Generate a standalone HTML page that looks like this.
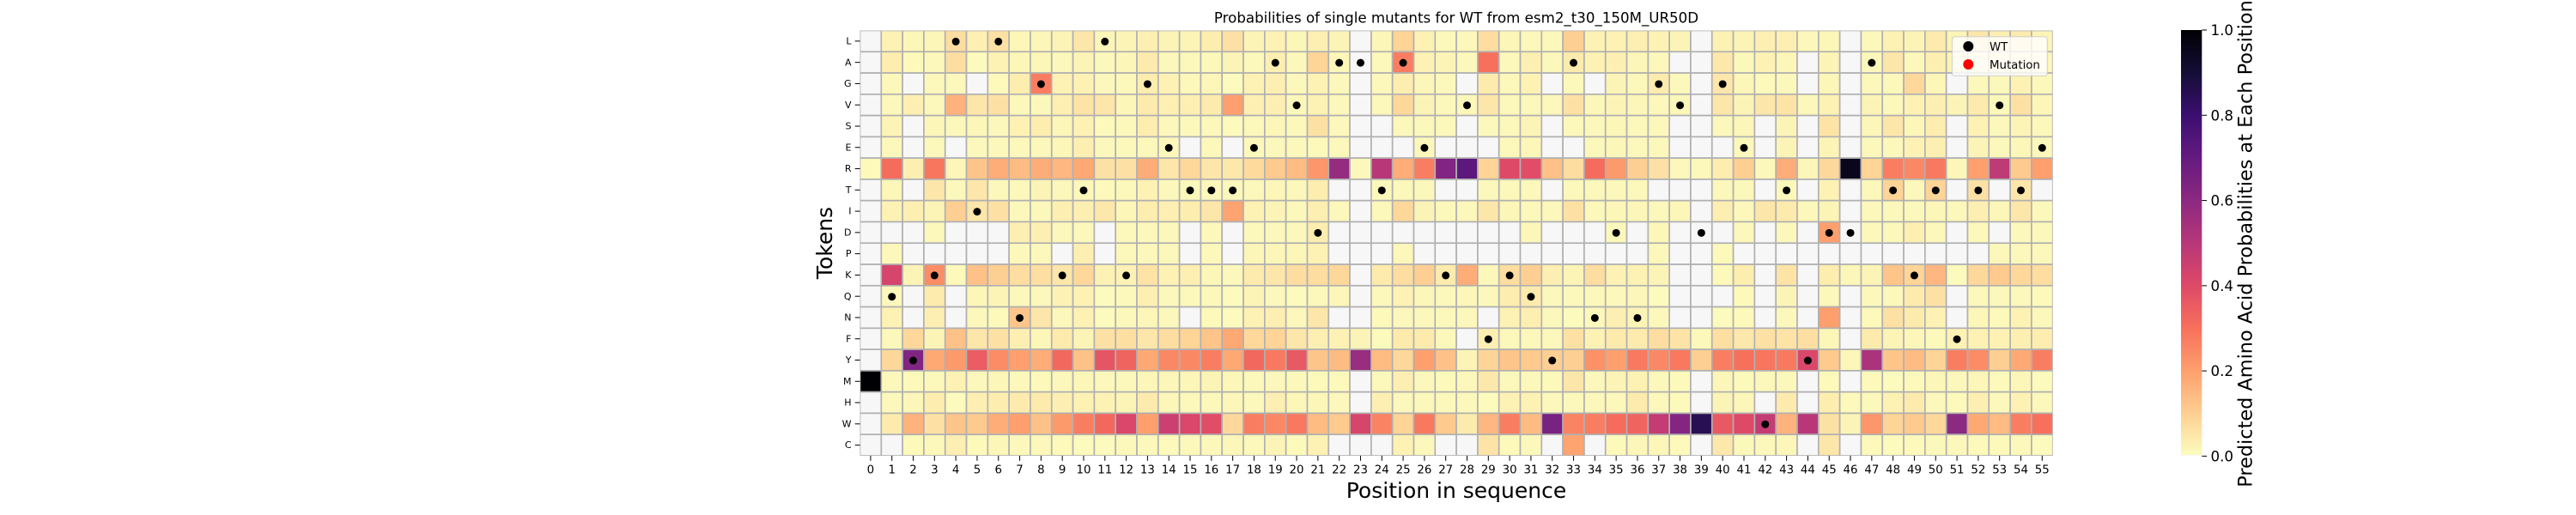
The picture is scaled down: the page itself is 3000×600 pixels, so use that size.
<!DOCTYPE html>
<html lang="en">
<head>
<meta charset="utf-8">
<title>Probabilities of single mutants for WT from esm2_t30_150M_UR50D</title>
<style>
html,body{margin:0;padding:0;background:#fff;width:3000px;height:600px;overflow:hidden}
svg{display:block}
text{font-family:"DejaVu Sans","Liberation Sans",sans-serif;fill:#000}
</style>
</head>
<body>
<svg id="chart" xmlns="http://www.w3.org/2000/svg" width="3000" height="600" viewBox="0 0 3000 600">
  <defs>
    <clipPath id="plot-clip"><rect x="1001.5" y="35.5" width="1389.2" height="495.5"/></clipPath>
    <linearGradient id="magma-reversed" x1="0" y1="1" x2="0" y2="0">
      <stop offset="0" stop-color="#fcfdbf"/><stop offset="0.1" stop-color="#fecf92"/>
      <stop offset="0.2" stop-color="#fe9f6d"/><stop offset="0.3" stop-color="#f7705c"/>
      <stop offset="0.4" stop-color="#de4968"/><stop offset="0.5" stop-color="#b73779"/>
      <stop offset="0.6" stop-color="#8c2981"/><stop offset="0.7" stop-color="#641a80"/>
      <stop offset="0.8" stop-color="#3b0f70"/><stop offset="0.9" stop-color="#140e36"/>
      <stop offset="1" stop-color="#000004"/>
    </linearGradient>
  </defs>
  <text x="1696" y="26.5" font-size="16.67" text-anchor="middle">Probabilities of single mutants for WT from esm2_t30_150M_UR50D</text>
  <text x="1696" y="580" font-size="25" text-anchor="middle">Position in sequence</text>
  <text x="969" y="283" font-size="25" text-anchor="middle" transform="rotate(-90 969 283)">Tokens</text>
  <g id="heatmap" clip-path="url(#plot-clip)"></g>
  <g id="wt-dots"></g>
  <g id="x-axis"></g>
  <g id="y-axis"></g>
  <g>
    <rect x="2273.5" y="42.8" width="110.8" height="45.6" rx="3" fill="#fff" fill-opacity="0.8" stroke="#ccc" stroke-opacity="0.8" stroke-width="1.2"/>
    <line x1="2278" x2="2307" y1="54" y2="54" stroke="#fff" stroke-width="1.5"/>
    <circle cx="2292.3" cy="54" r="6" fill="#000"/>
    <text x="2317" y="59" font-size="13.33">WT</text>
    <line x1="2278" x2="2307" y1="75" y2="75" stroke="#fff" stroke-width="1.5"/>
    <circle cx="2292.3" cy="75" r="6" fill="#f00"/>
    <text x="2317" y="80" font-size="13.33">Mutation</text>
  </g>
  <g>
    <rect x="2540" y="35" width="24.3" height="496" fill="url(#magma-reversed)"/>
    <rect x="2540" y="530" width="24.3" height="1.2" fill="#f7f7f7"/>
    <g id="colorbar-ticks"></g>
    <text x="2622.7" y="284" font-size="22.4" text-anchor="middle" transform="rotate(-90 2622.7 284)">Predicted Amino Acid Probabilities at Each Position</text>
  </g>
</svg>
<script>
const n = null;
const tokens = ["L","A","G","V","S","E","R","T","I","D","P","K","Q","N","F","Y","M","H","W","C"];
const positionLabels = ["0","1","2","3","4","5","6","7","8","9","10","11","12","13","14","15","16","17","18","19","20","21","22","23","24","25","26","27","28","29","30","31","32","33","34","35","36","37","38","39","40","41","42","43","44","45","46","47","48","49","50","51","52","53","54","55"];
const wildType = ["M","Q","Y","K","L","I","L","N","G","K","T","L","K","G","E","T","T","T","E","A","V","D","A","A","T","A","E","K","V","F","K","Q","Y","A","N","D","N","G","V","D","G","E","W","T","Y","D","D","A","T","K","T","F","T","V","T","E"];
const colorbarTicks = [0, 0.2, 0.4, 0.6, 0.8, 1.0];

const probL = [n,.025,.015,.015,.07,.03,.06,.015,.015,.02,.05,.015,.02,.03,.02,.02,.035,.06,.02,.025,.015,.03,.02,n,.015,.09,.025,.012,.012,.07,.015,.012,.01,.1,.025,.025,.03,.025,.02,n,.025,.02,.03,.03,.01,.015,n,.01,.025,.02,.04,.02,.05,.03,.04,.02];
const probA = [n,.035,.008,.012,.07,.006,.025,.015,.015,.012,.02,.012,.015,.04,.012,.012,.012,.02,.012,.03,.012,.09,.015,n,.012,.27,.025,.02,.012,.3,.012,.03,.01,.04,.025,.03,.015,.012,n,n,.045,.01,.025,.015,n,.02,n,.01,.05,.012,.03,.02,.015,.015,.015,.015];
const probG = [n,.01,n,.012,.012,n,.008,.035,.27,.025,.025,.012,.012,.035,.025,.012,.015,.006,.025,.03,.01,.025,.012,n,.01,.035,.015,.01,n,.04,.012,.025,n,.012,n,.02,.012,.04,.01,n,.05,.015,.008,.012,n,.015,n,.012,.012,.08,.015,n,.012,.012,.025,.01];
const probV = [n,.01,.03,.012,.16,.05,.06,.012,.01,.03,.055,.05,.015,.04,.03,.03,.04,.2,.03,.03,.01,.025,.012,n,.012,.08,.02,.012,.012,.05,.012,.012,.012,.06,.015,.02,.015,.012,.012,n,.05,.02,.05,.055,.012,.025,n,.02,.012,.025,.03,.02,.04,.01,.06,.015];
const probS = [n,.02,n,.015,.01,.015,.012,.025,.035,.015,.025,.008,.012,.035,.012,.01,.012,.006,.012,.015,.01,.06,.012,n,n,.012,.012,.012,n,.01,.012,.02,n,.012,.012,.015,.012,.012,n,n,.01,.015,n,.02,n,.055,n,.015,.05,.015,.035,n,.025,.012,.02,.012];
const probE = [n,.01,n,.012,n,.01,.01,.012,.012,.015,.03,.01,.01,.012,.01,n,.012,n,.01,.012,.012,.008,.012,n,n,n,.012,n,n,n,.012,.015,n,n,.012,.015,.012,.012,n,n,n,.012,n,.02,n,.02,n,.012,.01,.025,.03,n,.02,.012,.015,.012];
const probR = [.008,.31,.03,.29,.015,.12,.17,.14,.17,.15,.18,.06,.06,.17,.05,.08,.05,.045,.075,.11,.14,.22,.58,.01,.5,.17,.27,.63,.72,.09,.4,.39,.13,.07,.31,.21,.1,.06,.012,.01,.035,.1,.01,.17,.015,.08,.95,.09,.27,.25,.28,.015,.2,.48,.11,.2];
const probT = [n,.015,n,.05,.01,.05,.01,.012,.02,.012,.012,.008,.012,.025,.01,.012,.012,.012,.012,.015,.012,.035,n,n,.01,.012,.012,n,n,.01,.012,.012,n,.012,.012,.01,.01,n,n,n,.012,.012,n,.012,n,.025,n,.012,.09,.012,.09,n,.06,n,.05,n];
const probI = [n,.025,.03,.02,.1,.05,.06,.01,.012,.03,.03,.045,.015,.035,.03,.035,.05,.19,.025,.02,.012,.03,.012,n,.012,.08,.02,.012,.012,.05,.015,.012,.012,.06,.012,.015,.015,.012,.015,n,.03,.012,.05,.04,.012,.02,n,.012,.01,.012,.015,.012,.03,.015,.05,.01];
const probD = [n,n,n,.01,n,n,n,.03,.03,.012,.01,n,.012,.012,.01,n,.012,n,.012,.012,.01,.035,n,n,n,n,n,n,n,n,n,.015,n,n,n,.01,n,.015,n,n,n,.012,n,.01,n,.2,n,.01,.01,.03,.012,n,.012,n,.012,.01];
const probP = [n,.01,n,n,n,n,n,.01,.01,n,.03,n,.012,.012,.012,n,.01,n,.015,.015,.015,.025,n,n,n,.012,n,n,n,n,n,n,n,n,n,n,n,.012,n,n,.008,n,n,n,n,n,n,n,n,n,n,n,n,.012,.012,.012];
const probK = [n,.42,.02,.24,.008,.13,.1,.07,.065,.05,.08,.025,.025,.055,.025,.03,.015,.01,.04,.05,.07,.07,.08,n,.04,.07,.1,.04,.17,.012,.07,.1,.03,.02,.07,.025,.025,.02,n,n,.008,.035,n,.055,n,.035,.015,.02,.12,.09,.15,.006,.08,.11,.08,.07];
const probQ = [n,.01,n,.04,n,.015,.02,.012,.012,.025,.025,.006,.01,.03,.012,.012,.01,.006,.02,.012,.006,.012,.015,n,.012,.025,.015,.012,.015,.01,.035,.04,.012,.01,.012,.012,.015,.006,n,n,n,.008,n,.02,n,.012,n,.01,.012,.04,.06,n,.012,.012,.012,.008];
const probN = [n,.025,n,.03,n,.012,.008,.12,.05,.012,.025,.006,.012,.015,.01,n,.008,.005,.025,.03,.012,.05,n,n,.008,.01,.01,.01,.012,n,.025,.03,.012,.006,.01,.03,.02,.012,n,n,.006,.008,n,.012,n,.2,n,.008,.06,.04,.025,n,.015,.008,.025,.012];
const probF = [n,.012,.08,.02,.13,.05,.06,.03,.015,.04,.02,.06,.065,.05,.07,.09,.12,.18,.08,.09,.05,.03,.025,.02,.006,.04,.04,.012,n,.03,.012,.012,.012,.06,.025,.04,.04,.07,.055,.01,.065,.045,.06,.055,.065,.015,n,.04,.02,.015,.008,.025,.025,.025,.03,.035];
const probY = [n,.08,.63,.18,.21,.35,.24,.2,.17,.32,.13,.37,.33,.18,.25,.25,.27,.18,.32,.28,.36,.12,.14,.57,.14,.08,.2,.13,.02,.09,.12,.11,.1,.1,.23,.2,.28,.25,.28,.1,.27,.3,.29,.28,.41,.11,.015,.53,.12,.14,.09,.27,.24,.1,.18,.27];
const probM = [1,.01,.008,.012,.025,.012,.015,.01,.008,.012,.015,.01,.012,.015,.015,.015,.02,.015,.012,.012,.01,.008,.008,n,.012,.03,.012,.008,.012,.045,.01,.01,.008,.05,.012,.02,.025,.012,.008,n,.015,.008,.012,.012,n,.008,n,.008,.006,.008,.015,.012,.015,.008,.015,.006];
const probH = [n,.01,.015,.035,.006,.03,.035,.04,.04,.03,.025,.025,.02,.04,.015,.012,.01,.015,.012,.03,.015,.015,.012,n,.03,.012,.012,.012,.012,.006,.025,.025,.01,.01,.012,.012,.04,.012,.008,n,.02,.015,n,.04,n,.035,.008,.012,.025,.04,.012,.008,.03,.01,.025,.012];
const probW = [n,.04,.16,.06,.12,.11,.17,.2,.13,.21,.27,.32,.41,.2,.45,.41,.39,.08,.27,.25,.28,.14,.11,.42,.26,.09,.28,.11,.04,.15,.27,.14,.65,.26,.27,.31,.33,.47,.62,.85,.36,.4,.47,.16,.5,.06,.02,.22,.09,.11,.08,.6,.18,.14,.27,.3];
const probC = [n,n,.008,.012,.03,.008,.015,.01,.012,.008,.006,.006,.012,.012,.008,.01,.012,.015,.012,.02,.008,.025,n,n,n,.025,.012,n,n,.055,.008,.01,n,.19,n,.008,.015,.015,.008,n,.045,.01,.012,.015,n,.05,n,.008,.006,.008,.01,.012,.008,.008,.012,.006];

const probabilities = [probL,probA,probG,probV,probS,probE,probR,probT,probI,probD,probP,probK,probQ,probN,probF,probY,probM,probH,probW,probC];

const SVG_NS = "http://www.w3.org/2000/svg";
const plot = {left:1001.5, top:35.5, width:1389.2, height:495.5};
const colorbarBox = {right:2564.3, top:35, height:496.4};
const magmaStops = ["#fcfdbf","#fecf92","#fe9f6d","#f7705c","#de4968","#b73779","#8c2981","#641a80","#3b0f70","#140e36","#000004"];

function xScale(i){ return plot.left + i * plot.width / positionLabels.length; }
function yScale(j){ return plot.top + j * plot.height / tokens.length; }
function colorbarY(v){ return colorbarBox.top + (1 - v) * colorbarBox.height; }

function hexToRgb(h){ return [1,3,5].map(function(k){ return parseInt(h.substr(k,2),16); }); }
function colorFor(v){
  if (v === null) return "#f7f7f7";
  const t = Math.min(Math.max(v,0),1) * (magmaStops.length - 1);
  const k = Math.min(Math.floor(t), magmaStops.length - 2);
  const a = hexToRgb(magmaStops[k]), b = hexToRgb(magmaStops[k+1]), f = t - k;
  return "rgb(" + a.map(function(c,m){ return Math.round(c + (b[m]-c)*f); }).join(",") + ")";
}

const heatmapGroup = document.getElementById("heatmap");
const dotsGroup = document.getElementById("wt-dots");
const xAxisGroup = document.getElementById("x-axis");
const yAxisGroup = document.getElementById("y-axis");
const cbTicksGroup = document.getElementById("colorbar-ticks");

probabilities.forEach(function(row, j){
  row.forEach(function(value, i){
    const cell = document.createElementNS(SVG_NS, "rect");
    
    
    cell.setAttribute("x", xScale(i));
    cell.setAttribute("y", yScale(j));
    cell.setAttribute("width", xScale(i+1) - xScale(i));
    cell.setAttribute("height", yScale(j+1) - yScale(j));
    cell.setAttribute("fill", colorFor(value));
    cell.setAttribute("stroke", "#b0b0b0");
    cell.setAttribute("stroke-width", "1.67");
    heatmapGroup.appendChild(cell);
  });
});

wildType.forEach(function(token, i){
  const j = tokens.indexOf(token);
  const dot = document.createElementNS(SVG_NS, "circle");
  
  
  dot.setAttribute("cx", xScale(i + 0.5));
  dot.setAttribute("cy", yScale(j + 0.5) + 0.5);
  dot.setAttribute("r", "4.5");
  dot.setAttribute("fill", "#000");
  dotsGroup.appendChild(dot);
});

positionLabels.forEach(function(label, i){
  const tick = document.createElementNS(SVG_NS, "line");
  
  
  tick.setAttribute("x1", xScale(i + 0.5));
  tick.setAttribute("x2", xScale(i + 0.5));
  tick.setAttribute("y1", plot.top + plot.height);
  tick.setAttribute("y2", plot.top + plot.height + 5.8);
  tick.setAttribute("stroke", "#000");
  tick.setAttribute("stroke-width", "1");
  xAxisGroup.appendChild(tick);
  const text = document.createElementNS(SVG_NS, "text");
  
  
  text.setAttribute("x", xScale(i + 0.5));
  text.setAttribute("y", 551.5);
  text.setAttribute("font-size", "13.33");
  text.setAttribute("text-anchor", "middle");
  text.textContent = label;
  xAxisGroup.appendChild(text);
});

tokens.forEach(function(label, j){
  const tick = document.createElementNS(SVG_NS, "line");
  
  
  tick.setAttribute("x1", plot.left - 5.8);
  tick.setAttribute("x2", plot.left);
  tick.setAttribute("y1", yScale(j + 0.5));
  tick.setAttribute("y2", yScale(j + 0.5));
  tick.setAttribute("stroke", "#000");
  tick.setAttribute("stroke-width", "1");
  yAxisGroup.appendChild(tick);
  const text = document.createElementNS(SVG_NS, "text");
  
  
  text.setAttribute("x", 991.5);
  text.setAttribute("y", yScale(j + 0.5) + 3.6);
  text.setAttribute("font-size", "11");
  text.setAttribute("text-anchor", "end");
  text.textContent = label;
  yAxisGroup.appendChild(text);
});

colorbarTicks.forEach(function(v){
  const tick = document.createElementNS(SVG_NS, "line");
  
  
  tick.setAttribute("x1", colorbarBox.right);
  tick.setAttribute("x2", colorbarBox.right + 5.8);
  tick.setAttribute("y1", colorbarY(v));
  tick.setAttribute("y2", colorbarY(v));
  tick.setAttribute("stroke", "#000");
  tick.setAttribute("stroke-width", "1");
  cbTicksGroup.appendChild(tick);
  const text = document.createElementNS(SVG_NS, "text");
  
  
  text.setAttribute("x", 2574.5);
  text.setAttribute("y", colorbarY(v) + 6);
  text.setAttribute("font-size", "16.67");
  text.textContent = v.toFixed(1);
  cbTicksGroup.appendChild(text);
});
</script>
</body>
</html>
